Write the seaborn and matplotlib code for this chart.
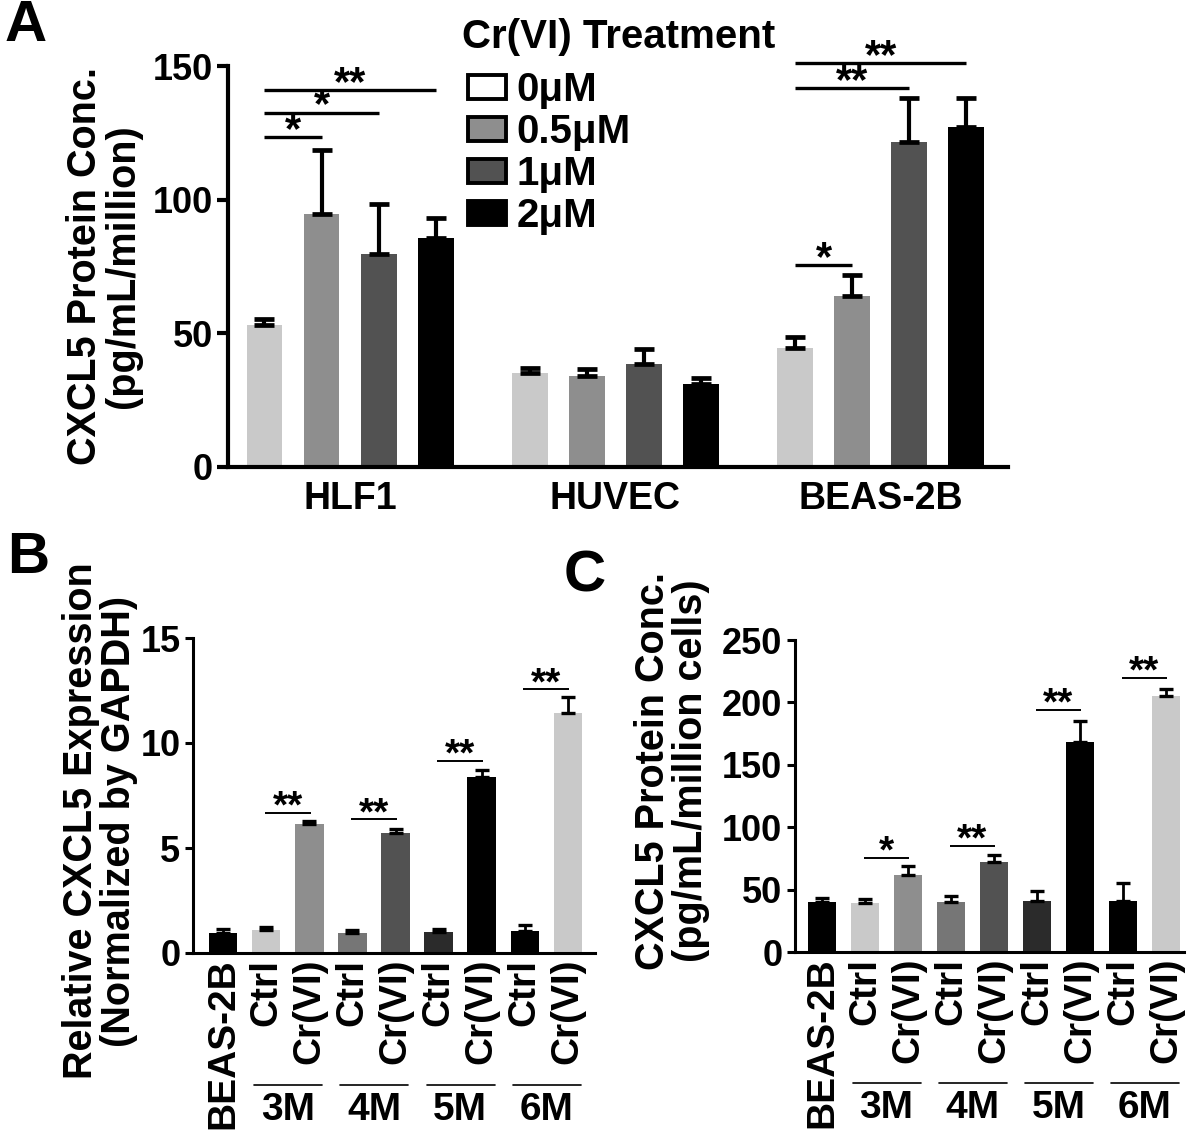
import matplotlib
matplotlib.use("Agg")
from matplotlib import pyplot as plt
from matplotlib.patches import Patch
import matplotlib.transforms as mtransforms
import pandas as pd
import seaborn as sns

# ---- panel A: CXCL5 protein by cell line and Cr(VI) dose
cells = ["HLF1", "HUVEC", "BEAS-2B"]
doses = ["0μM", "0.5μM", "1μM", "2μM"]
dose_colors = ["#c9c9c9", "#8e8e8e", "#525252", "#000000"]
legend_colors = ["#ffffff", "#8e8e8e", "#525252", "#000000"]
hlf1_mean = [53.3, 94.8, 79.7, 85.8]
hlf1_err = [2.1, 23.8, 18.5, 7.4]
huvec_mean = [35.0, 34.0, 38.5, 31.0]
huvec_err = [2.0, 2.5, 5.8, 2.3]
beas_mean = [44.5, 64.0, 121.5, 127.0]
beas_err = [4.0, 8.0, 16.5, 11.0]

# significance brackets in A: cell, first bar, last bar, height, mark
sig_a_cell = ["HLF1", "HLF1", "HLF1", "BEAS-2B", "BEAS-2B", "BEAS-2B"]
sig_a_to = [1, 2, 3, 1, 2, 3]
sig_a_y = [123.3, 132.6, 141.0, 75.4, 141.9, 151.2]
sig_a_mark = ["*", "*", "**", "*", "**", "**"]

# ---- panels B and C: chronic exposure, 3-6 months
bc_keys = ["BEAS-2B", "3M Ctrl", "3M Cr(VI)", "4M Ctrl", "4M Cr(VI)",
           "5M Ctrl", "5M Cr(VI)", "6M Ctrl", "6M Cr(VI)"]
bc_labels = ["BEAS-2B", "Ctrl", "Cr(VI)", "Ctrl", "Cr(VI)",
             "Ctrl", "Cr(VI)", "Ctrl", "Cr(VI)"]
bc_colors = ["#000000", "#c9c9c9", "#8e8e8e", "#767676", "#525252",
             "#2b2b2b", "#000000", "#000000", "#c9c9c9"]
months = ["3M", "4M", "5M", "6M"]

b_mean = [0.96, 1.09, 6.13, 0.96, 5.73, 1.0, 8.4, 1.05, 11.45]
b_err = [0.17, 0.15, 0.14, 0.13, 0.18, 0.15, 0.33, 0.26, 0.73]
b_sig_y = [6.69, 6.36, 9.13, 12.55]
b_sig_mark = ["**", "**", "**", "**"]

c_mean = [39.9, 39.0, 62.0, 39.9, 71.9, 41.2, 168.0, 41.2, 204.9]
c_err = [3.7, 3.7, 6.8, 5.2, 6.1, 7.6, 16.9, 14.1, 6.1]
c_sig_y = [75.6, 84.8, 194.0, 219.6]
c_sig_mark = ["*", "**", "**", "**"]

W, H = 1200, 1142

sns.set_theme(style="ticks")
plt.rcParams['font.family'] = ['Liberation Sans', 'DejaVu Sans']
plt.rcParams['font.weight'] = 'bold'
plt.rcParams['axes.labelweight'] = 'bold'
for key in ['text.color', 'axes.labelcolor', 'xtick.color', 'ytick.color']:
    plt.rcParams[key] = 'black'

fig = plt.figure(figsize=(12, 11.42), dpi=100)


def sig_mark(ax, x0, x1, y, mark, lw, size):
    ax.plot([x0, x1], [y, y], color="black", lw=lw, clip_on=False,
            solid_capstyle="butt")
    ax.annotate(mark, xy=((x0 + x1) / 2, y), xytext=(0, -0.12 * size),
                textcoords="offset points", ha="center", va="baseline",
                fontsize=size, fontweight="bold", annotation_clip=False)


def style_axis(ax, lw, tlen, size):
    sns.despine(ax=ax)
    for s in ["left", "bottom"]:
        ax.spines[s].set_linewidth(lw)
        ax.spines[s].set_color("black")
    ax.tick_params(axis="y", length=tlen, width=lw, labelsize=size,
                   color="black", pad=3)
    ax.set_xlabel("")
    ax.set_ylabel("")
    for t in ax.get_yticklabels():
        t.set_fontweight("bold")


# ---------------- panel A
axA = fig.add_axes([228 / W, 1 - 467 / H, 780 / W, 401 / H])
df_a = pd.DataFrame({
    "cell": [c for c in cells for _ in doses],
    "dose": doses * len(cells),
    "conc": hlf1_mean + huvec_mean + beas_mean,
})
a_err = {"HLF1": hlf1_err, "HUVEC": huvec_err, "BEAS-2B": beas_err}

sns.barplot(data=df_a, x="cell", y="conc", hue="dose", order=cells,
            hue_order=doses, palette=dose_colors, width=0.86, gap=0.37,
            errorbar=None, saturation=1, legend=False, linewidth=0, ax=axA)

bar_groups = list(axA.containers)
centers = {}
for i, cont in enumerate(bar_groups):
    for j, bar in enumerate(cont.patches):
        cx = bar.get_x() + bar.get_width() / 2
        centers[(cells[j], i)] = cx
        axA.errorbar(cx, bar.get_height(), yerr=[[0], [a_err[cells[j]][i]]],
                     fmt="none", ecolor="black", elinewidth=3,
                     capsize=7, capthick=3.4, zorder=3)

for cell, k, y, mark in zip(sig_a_cell, sig_a_to, sig_a_y, sig_a_mark):
    sig_mark(axA, centers[(cell, 0)], centers[(cell, k)], y, mark, 2.4, 30)

axA.set_xlim(-0.46, 2.48)
axA.set_ylim(0, 150)
axA.set_yticks([0, 50, 100, 150])
style_axis(axA, 3, 8, 26)
axA.tick_params(axis="x", length=0, labelsize=27, pad=10)
for t in axA.get_xticklabels():
    t.set_fontweight("bold")

fig.text(462 / W, 1 - 37 / H, "Cr(VI) Treatment", ha="left", va="center",
         fontsize=29, fontweight="bold")
handles = [Patch(facecolor=c, edgecolor="black", linewidth=2.8) for c in legend_colors]
axA.legend(handles, doses, loc="upper left",
           bbox_to_anchor=(468 / W, 1 - 71 / H), bbox_transform=fig.transFigure,
           frameon=False, prop={"weight": "bold", "size": 29},
           handlelength=0.95, handleheight=0.55,
           handletextpad=0.25, labelspacing=0.1, borderpad=0, borderaxespad=0)

fig.text(104 / W, 1 - 266 / H, "CXCL5 Protein Conc.\n(pg/mL/million)",
         rotation=90, ha="center", va="center", fontsize=28.5,
         fontweight="bold", linespacing=1.0)


# ---------------- panels B and C
def month_panel(rect, means, errs, ylim, yticks, sig_y, sig_marks, xlim):
    ax = fig.add_axes(rect)
    df = pd.DataFrame({"key": bc_keys, "val": means})
    sns.barplot(data=df, x="key", y="val", hue="key", order=bc_keys,
                palette=dict(zip(bc_keys, bc_colors)), width=0.66,
                errorbar=None, saturation=1, legend=False, linewidth=0, ax=ax)
    for bar in list(ax.patches):
        cx = bar.get_x() + bar.get_width() / 2
        k = int(round(cx))
        ax.errorbar(cx, bar.get_height(), yerr=[[0], [errs[k]]], fmt="none",
                    ecolor="black", elinewidth=2, capsize=5, capthick=2.4,
                    zorder=3)
    for m, (y, mark) in enumerate(zip(sig_y, sig_marks)):
        k = 1 + 2 * m
        sig_mark(ax, k - 0.03, k + 1.03, y, mark, 1.4, 28)

    ax.set_xlim(*xlim)
    ax.set_ylim(*ylim)
    ax.set_yticks(yticks)
    style_axis(ax, 2.2, 6, 26)
    ax.set_xticks(range(len(bc_keys)))
    ax.set_xticklabels(bc_labels, rotation=90, fontsize=28, fontweight="bold")
    ax.tick_params(axis="x", length=0, pad=4)

    trans = mtransforms.blended_transform_factory(ax.transData, ax.transAxes)
    for m, month in enumerate(months):
        k = 1 + 2 * m
        ax.plot([k - 0.28, k + 1.3], [-0.419, -0.419], transform=trans,
                color="black", lw=1.2, clip_on=False)
        ax.text(k + 0.5, -0.50, month, transform=trans, ha="center",
                va="center", fontsize=28, fontweight="bold")
    return ax


axB = month_panel([193 / W, 1 - 953 / H, 402 / W, 315 / H], b_mean, b_err,
                  (0, 15), [0, 5, 10, 15], b_sig_y, b_sig_mark, (-0.70, 8.63))
fig.text(100 / W, 1 - 821 / H, "Relative CXCL5 Expression\n(Normalized by GAPDH)",
         rotation=90, ha="center", va="center", fontsize=28.5,
         fontweight="bold", linespacing=1.0)

axC = month_panel([795 / W, 1 - 952 / H, 389 / W, 312 / H], c_mean, c_err,
                  (0, 250), [0, 50, 100, 150, 200, 250], c_sig_y, c_sig_mark,
                  (-0.63, 8.42))
fig.text(672 / W, 1 - 771 / H, "CXCL5 Protein Conc.\n(pg/mL/million cells)",
         rotation=90, ha="center", va="center", fontsize=28.5,
         fontweight="bold", linespacing=1.0)

# panel letters
fig.text(26 / W, 1 - 26 / H, "A", fontsize=42, fontweight="bold", ha="center", va="center")
fig.text(28 / W, 1 - 558 / H, "B", fontsize=42, fontweight="bold", ha="center", va="center")
fig.text(585 / W, 1 - 577 / H, "C", fontsize=42, fontweight="bold", ha="center", va="center")

fig.savefig("out.png", dpi=100)
